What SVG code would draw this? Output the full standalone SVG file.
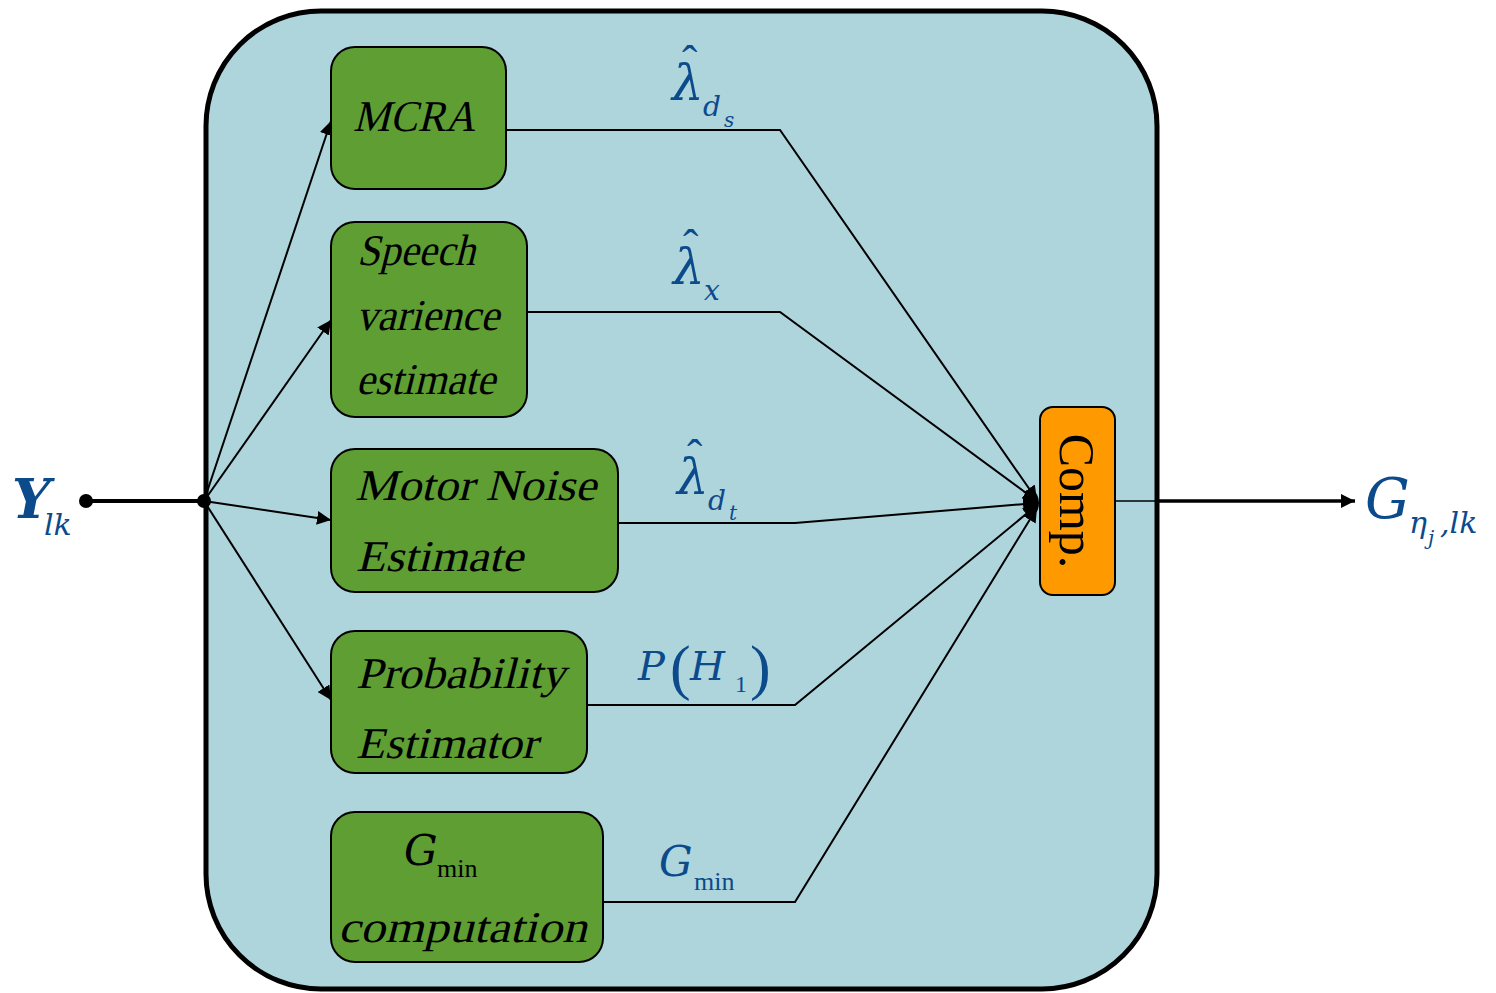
<svg xmlns="http://www.w3.org/2000/svg" width="1496" height="993" viewBox="0 0 1496 993">
<style>
.box{fill:#5F9E33;stroke:#000;stroke-width:2}
.bt{font-family:"Liberation Serif",serif;font-size:44px;fill:#000}
.m{font-family:"DejaVu Serif",serif;font-style:italic;fill:#0B4A8B}
.u{font-family:"Liberation Serif",serif;font-style:normal}
.ln{fill:none;stroke:#000;stroke-width:2}
</style>
<defs>
<marker id="ah2" viewBox="0 0 10 10" refX="10" refY="5" markerWidth="14" markerHeight="14" markerUnits="userSpaceOnUse" orient="auto"><path d="M0,0 L10,5 L0,10 z" fill="#000"/></marker>
</defs>
<rect width="1496" height="993" fill="#fff"/>
<g id="container"><rect x="206" y="11" width="951" height="978" rx="115" ry="115" fill="#AED4DC" stroke="#000" stroke-width="5"/></g>
<g id="connectors">
<line x1="86" y1="501" x2="204" y2="501" stroke="#000" stroke-width="4"/>
<circle cx="86" cy="501" r="7" fill="#000"/>
<circle cx="204" cy="501" r="7" fill="#000"/>
<line class="ln" x1="204" y1="501" x2="331" y2="121" marker-end="url(#ah2)"/>
<line class="ln" x1="204" y1="501" x2="331" y2="320" marker-end="url(#ah2)"/>
<line class="ln" x1="204" y1="501" x2="331" y2="520" marker-end="url(#ah2)"/>
<line class="ln" x1="204" y1="501" x2="331" y2="700" marker-end="url(#ah2)"/>
<polyline class="ln" points="506,130 780,130 1037,500" marker-end="url(#ah2)"/>
<polyline class="ln" points="527,312 780,312 1037,501" marker-end="url(#ah2)"/>
<polyline class="ln" points="615,523 795,523 1037,503" marker-end="url(#ah2)"/>
<polyline class="ln" points="585,705 795,705 1037,505" marker-end="url(#ah2)"/>
<polyline class="ln" points="602,902 795,902 1037,508" marker-end="url(#ah2)"/>
<ellipse cx="1032" cy="503" rx="7" ry="12" fill="#000"/>
<line x1="1115" y1="501" x2="1160" y2="501" stroke="#000" stroke-width="1.5"/>
<line x1="1158" y1="501" x2="1355" y2="501" stroke="#000" stroke-width="3.5" marker-end="url(#ah2)"/>
</g>
<g id="mcra"><rect class="box" x="331" y="47" width="175" height="142" rx="24"/><text class="bt" transform="translate(353,131) skewX(-14)" textLength="122" lengthAdjust="spacingAndGlyphs">MCRA</text></g>
<g id="speech"><rect class="box" x="331" y="222" width="196" height="195" rx="24"/>
<text class="bt" transform="translate(357,265) skewX(-14)" textLength="118" lengthAdjust="spacingAndGlyphs">Speech</text>
<text class="bt" transform="translate(356,330) skewX(-14)" textLength="143" lengthAdjust="spacingAndGlyphs">varience</text>
<text class="bt" transform="translate(356,394) skewX(-14)" textLength="139" lengthAdjust="spacingAndGlyphs">estimate</text></g>
<g id="motor"><rect class="box" x="331" y="449" width="287" height="143" rx="24"/>
<text class="bt" transform="translate(355,500) skewX(-14)" textLength="241" lengthAdjust="spacingAndGlyphs">Motor Noise</text>
<text class="bt" transform="translate(356,571) skewX(-14)" textLength="167" lengthAdjust="spacingAndGlyphs">Estimate</text></g>
<g id="prob"><rect class="box" x="331" y="631" width="256" height="142" rx="24"/>
<text class="bt" transform="translate(356,688) skewX(-14)" textLength="209" lengthAdjust="spacingAndGlyphs">Probability</text>
<text class="bt" transform="translate(356,758) skewX(-14)" textLength="181" lengthAdjust="spacingAndGlyphs">Estimator</text></g>
<g id="gmin"><rect class="box" x="331" y="812" width="272" height="150" rx="24"/>
<text font-family="Liberation Serif,serif" fill="#000"><tspan x="404" y="865" font-family="DejaVu Serif,serif" font-style="italic" font-size="42">G</tspan><tspan x="437" y="877" font-size="26">min</tspan></text>
<text class="bt" transform="translate(338,942) skewX(-14)" textLength="249" lengthAdjust="spacingAndGlyphs">computation</text></g>
<g id="comp"><rect x="1040" y="407" width="75" height="188" rx="13" fill="#FF9900" stroke="#000" stroke-width="2"/>
<text transform="translate(1060,501) rotate(90)" text-anchor="middle" font-family="Liberation Serif,serif" font-size="50" fill="#000">Comp.</text></g>
<g id="labels">
<text class="m"><tspan class="u" x="682" y="78" font-size="46">ˆ</tspan><tspan x="672" y="100" font-size="50">λ</tspan><tspan x="703" y="116" font-size="28">d</tspan><tspan x="724" y="127" font-size="20">s</tspan></text>
<text class="m"><tspan class="u" x="683" y="262" font-size="46">ˆ</tspan><tspan x="673" y="284" font-size="50">λ</tspan><tspan x="704" y="300" font-size="28">x</tspan></text>
<text class="m"><tspan class="u" x="687" y="472" font-size="46">ˆ</tspan><tspan x="677" y="494" font-size="50">λ</tspan><tspan x="708" y="510" font-size="28">d</tspan><tspan x="729" y="520" font-size="20">t</tspan></text>
<text class="m"><tspan x="638" y="680" font-size="40">P</tspan><tspan class="u" x="670" y="688" font-size="62">(</tspan><tspan x="690" y="680" font-size="40">H</tspan><tspan class="u" x="735" y="692" font-size="24">1</tspan><tspan class="u" x="750" y="688" font-size="62">)</tspan></text>
<text class="m"><tspan x="659" y="876" font-size="42">G</tspan><tspan class="u" x="694" y="890" font-size="26">min</tspan></text>
<text class="m"><tspan x="12" y="518" font-size="54" font-weight="bold">Y</tspan><tspan x="44" y="535" font-size="30">lk</tspan></text>
<text class="m"><tspan x="1365" y="518" font-size="56">G</tspan><tspan x="1409" y="533" font-size="30">η</tspan><tspan x="1428" y="545" font-size="20">j</tspan><tspan x="1440" y="533" font-size="30">,lk</tspan></text>
</g>
</svg>
